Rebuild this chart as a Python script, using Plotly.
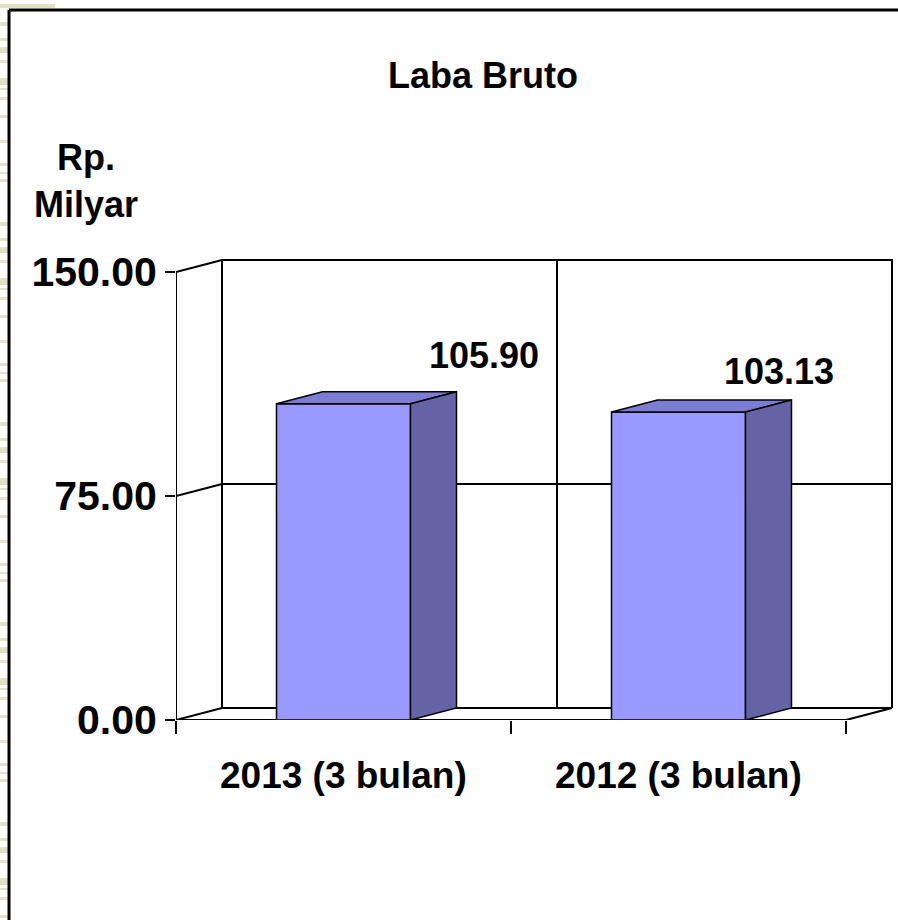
import plotly.graph_objects as go

# ---- data ----
categories = ["2013 (3 bulan)", "2012 (3 bulan)"]
values = [105.90, 103.13]
y_ticks = [0, 75, 150]
y_tick_labels = [f"{v:.2f}" for v in y_ticks]
title_text = "Laba Bruto"
unit_text = "Rp.<br>Milyar"

# ---- geometry / style constants ----
W, H = 898, 920
X0PX, Y0PX = 176, 720          # front-left-bottom corner in pixels
PX_PER_CAT = 335
PX_PER_UNIT = 448 / 150
XMAX, YMAX = 2.15, 155
DX = 46 / PX_PER_CAT           # depth offset (category units)
DY = 12 / PX_PER_UNIT          # depth offset (value units)
HALF_W = 0.2
FRONT, TOP, SIDE = "#9999FF", "#7C7CD4", "#6363A6"
FAMILY = "Arial, Liberation Sans, sans-serif"
FONT = dict(family=FAMILY, size=36, color="black", weight="bold")
CAT_FONT = dict(family=FAMILY, size=37, color="black", weight="bold")
TICK_FONT = dict(family=FAMILY, size=41, color="black", weight="bold")
LBL_DX = [0.42, 0.30]
LBL_DY = [16.0, 13.5]

x_dom = [X0PX / W, (X0PX + XMAX * PX_PER_CAT) / W]
y_dom = [(H - Y0PX) / H, (H - Y0PX + YMAX * PX_PER_UNIT) / H]

fig = go.Figure()

def add_line(xs, ys, width=2):
    fig.add_trace(go.Scatter(x=xs, y=ys, mode="lines", line=dict(color="black", width=width),
                             hoverinfo="skip", showlegend=False))

n = len(categories)
top_v = y_ticks[-1]
# back wall outline
add_line([DX, n + DX, n + DX], [top_v + DY, top_v + DY, DY])
add_line([DX, DX], [DY, top_v + DY])
# floor
add_line([0, DX, n + DX, n], [0, DY, DY, 0])
# category dividers on back wall
for i in range(1, n):
    add_line([i + DX, i + DX], [DY, top_v + DY])
# gridlines (left wall slant + back wall)
for v in y_ticks[1:]:
    add_line([0, DX, n + DX], [v, v + DY, v + DY])
# front axis lines
add_line([0, 0], [0, top_v])
add_line([0, n], [0, 0])

# bars
for i, v in enumerate(values):
    c = i + 0.5
    l, r = c - HALF_W, c + HALF_W
    polys = [
        ([l, r, r, l, l], [0, 0, v, v, 0], FRONT),
        ([l, r, r + DX, l + DX, l], [v, v, v + DY, v + DY, v], TOP),
        ([r, r + DX, r + DX, r, r], [0, DY, v + DY, v, 0], SIDE),
    ]
    for xs, ys, col in polys:
        fig.add_trace(go.Scatter(x=xs, y=ys, mode="lines", fill="toself", fillcolor=col,
                                 line=dict(color="black", width=1.5), hoverinfo="skip",
                                 showlegend=False))
    fig.add_annotation(x=c + LBL_DX[i], y=v + LBL_DY[i], xref="x", yref="y",
                       xanchor="center", yanchor="middle",
                       text=f"{v:.2f}", showarrow=False, font=FONT)
    fig.add_annotation(x=c, y=(H - 775) / H, xref="x", yref="paper",
                       xanchor="center", yanchor="middle",
                       text=categories[i], showarrow=False, font=CAT_FONT)

fig.add_annotation(x=483 / W, y=1 - 75 / H, xref="paper", yref="paper", text=title_text,
                   xanchor="center", yanchor="middle", showarrow=False, font=FONT)
fig.add_annotation(x=86 / W, y=1 - 181 / H, xref="paper", yref="paper", text=unit_text,
                   xanchor="center", yanchor="middle", showarrow=False, font=FONT,
                   align="center")

# decorative page background stripes on left edge
shapes = []
stripe_pattern = [(22, 4), (38, 3), (47, 6), (60, 3), (78, 7), (88, 2), (97, 3), (115, 3),
                  (140, 3), (163, 3), (172, 2), (179, 3)]
for base in range(0, H, 200):
    for y, h in stripe_pattern:
        yy = base + y
        if yy > H:
            continue
        shapes.append(dict(type="rect", xref="paper", yref="paper", x0=0, x1=8 / W,
                           y0=1 - (yy + h) / H, y1=1 - yy / H, fillcolor="#E4E2C4",
                           line=dict(width=0), layer="below"))
shapes.append(dict(type="rect", xref="paper", yref="paper", x0=0, x1=55 / W,
                   y0=1 - 8 / H, y1=1 - 4 / H, fillcolor="#E4E2C4", line=dict(width=0),
                   layer="below"))
# frame
shapes.append(dict(type="line", xref="paper", yref="paper", x0=9 / W, x1=9 / W, y0=0,
                   y1=1 - 10 / H, line=dict(color="black", width=3)))
shapes.append(dict(type="line", xref="paper", yref="paper", x0=9 / W, x1=1, y0=1 - 10 / H,
                   y1=1 - 10 / H, line=dict(color="black", width=3)))

fig.update_layout(
    width=W, height=H, margin=dict(l=0, r=0, t=0, b=0, autoexpand=False),
    paper_bgcolor="white", plot_bgcolor="rgba(0,0,0,0)",
    shapes=shapes, showlegend=False,
    xaxis=dict(domain=x_dom, range=[0, XMAX], tickvals=list(range(n + 1)),
               ticktext=[""] * (n + 1), ticks="outside", ticklen=13, tickwidth=2,
               tickcolor="black", showgrid=False, zeroline=False, showline=False,
               fixedrange=True),
    yaxis=dict(domain=y_dom, range=[0, YMAX], tickvals=y_ticks, ticktext=y_tick_labels,
               ticks="outside", ticklen=10, tickwidth=2, tickcolor="black",
               tickfont=TICK_FONT, showgrid=False, zeroline=False, showline=False,
               fixedrange=True),
)

fig.write_html("out.html", config={"displayModeBar": False},
               post_script="document.body.style.margin='0';")
